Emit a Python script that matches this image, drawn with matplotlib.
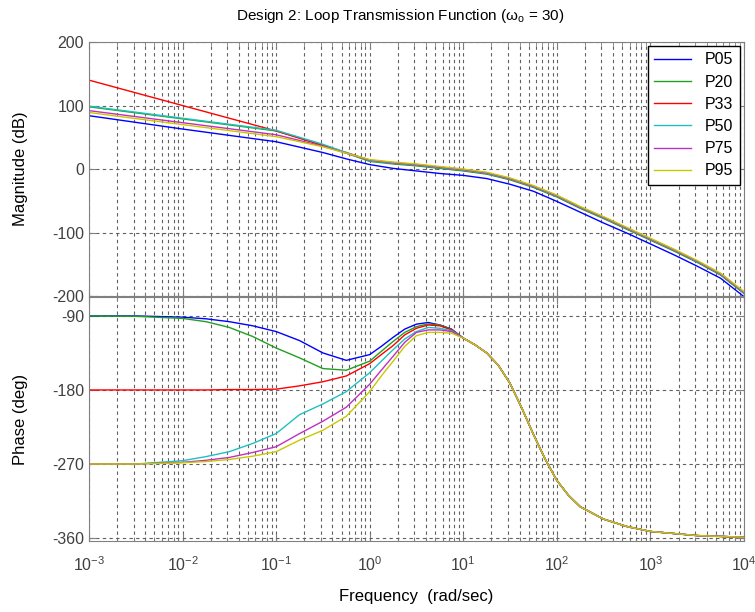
# Bode plot of the loop transmission for six plant cases (P05..P95)

import numpy as np
import matplotlib.pyplot as plt

plt.rcParams['font.family'] = ['Liberation Sans', 'DejaVu Sans']
plt.rcParams['mathtext.fontset'] = 'custom'
plt.rcParams['mathtext.rm'] = 'Liberation Sans'
plt.rcParams['mathtext.it'] = 'Liberation Sans'
plt.rcParams['axes.unicode_minus'] = False

# case names and line colours
cases = ['P05', 'P20', 'P33', 'P50', 'P75', 'P95']
colors = ['#0000ff', '#1fa01f', '#ff0000', '#20c0c0', '#c030c0', '#c8c800']

# magnitude (dB)
mag_w = [1e-3, 1e-2, 0.1, 0.316, 0.562, 1.0, 1.78, 3.16, 5.62, 10, 17.8, 31.6,
         56.2, 100, 178, 316, 562, 1000, 1778, 3162, 5623, 1e4]
mag_p05 = [84, 63, 43, 26, 16, 7, 1, -3, -7, -10, -15, -24, -35, -51, -68, -85,
           -101, -118, -135, -153, -172, -201]
mag_p20 = [98, 79, 60, 38, 25, 12, 8, 5, 1, -3, -8, -17, -29, -44, -62, -78,
           -95, -112, -129, -147, -167, -196]
mag_p33 = [140, 100, 60, 37, 26, 14, 9, 6, 2, -2, -7, -16, -28, -43, -61, -77,
           -94, -111, -128, -146, -166, -195]
mag_p50 = [99, 80, 61, 39, 26, 13, 9, 6, 2, -2, -7, -16, -28, -43, -61, -77,
           -94, -111, -128, -146, -166, -195]
mag_p75 = [92, 73, 54, 36, 25, 14, 10, 7, 3, -1, -6, -15, -27, -42, -60, -76,
           -93, -110, -127, -145, -165, -194]
mag_p95 = [89, 70, 51, 35, 25, 15, 11, 8, 4, 0, -5, -14, -26, -41, -59, -75,
           -92, -109, -126, -144, -164, -193]

# phase (deg): low-frequency part differs per case, the tail is shared
ph_lo_w = [0.001, 0.00316, 0.01, 0.0178, 0.0316, 0.0562, 0.1, 0.178, 0.316,
           0.562, 1.0, 1.33, 1.78, 2.37, 3.16, 4.22, 5.62, 7.5]
ph_p05 = [-90, -90, -91.5, -93.5, -97, -102, -109, -120, -135, -144, -137,
          -127, -116, -106, -100, -98, -101, -106]
ph_p20 = [-90, -90.5, -93, -97, -104, -115, -129, -141, -154, -156, -145,
          -133, -121, -110, -103, -99.7, -101, -106.5]
ph_p33 = [-180, -180, -180, -180, -179.5, -179.5, -179, -175, -170, -163, -148,
          -137, -126, -113, -105, -101, -102, -107]
ph_p50 = [-270, -270, -266, -261, -255, -245, -233, -210, -197, -182, -159,
          -145, -131, -118, -109, -104, -105, -108]
ph_p75 = [-270, -270, -268, -265.5, -262, -256, -249, -233, -218, -201, -173,
          -156, -139, -122, -110, -107, -107, -109]
ph_p95 = [-270, -270, -268.5, -267, -264.5, -260.5, -255, -241, -229, -212, -182,
          -163, -145, -127, -114, -110, -110, -111]
ph_hi_w = [10, 13.3, 17.8, 23.7, 31.6, 42.2, 56.2, 75, 100, 133, 178, 316, 562,
           1000, 3162, 1e4]
ph_tail = [-117, -125, -135, -150, -172, -202, -234, -264, -290, -308, -322,
           -337, -346, -352, -357, -359]

mags = [mag_p05, mag_p20, mag_p33, mag_p50, mag_p75, mag_p95]
phases = [ph_p05, ph_p20, ph_p33, ph_p50, ph_p75, ph_p95]

fig = plt.figure(figsize=(7.55, 6.12), dpi=100)
ax1 = fig.add_axes([0.1179, 0.5163, 0.8675, 0.4150])
ax2 = fig.add_axes([0.1179, 0.1160, 0.8675, 0.3987])

for name, c, m in zip(cases, colors, mags):
    ax1.plot(mag_w, m, color=c, lw=1.0, label=name)
for c, p in zip(colors, phases):
    ax2.plot(ph_lo_w + ph_hi_w, p + ph_tail, color=c, lw=1.0)

grid_style = dict(ls=(0, (3, 3)), color='#606060', lw=0.8)
for ax in (ax1, ax2):
    ax.set_xscale('log')
    ax.set_xlim(1e-3, 1e4)
    ax.grid(True, which='major', **grid_style)
    ax.grid(True, which='minor', axis='x', **grid_style)
    ax.tick_params(which='both', direction='in', top=True, right=True,
                   color='#808080', labelcolor='#404040', labelsize=11.5)
    ax.tick_params(which='major', length=5)
    ax.tick_params(which='minor', length=3)
    ax.yaxis.set_label_coords(-0.093, 0.5)
    for s in ax.spines.values():
        s.set_color('#808080')

ax1.set_ylim(-200, 200)
ax1.set_yticks([-200, -100, 0, 100, 200])
ax1.tick_params(labelbottom=False)
ax1.set_ylabel('Magnitude (dB)', fontsize=12)
ax1.set_title(r'Design 2: Loop Transmission Function ($\mathregular{\omega_o}$ = 30)',
              fontsize=11, pad=16, x=0.475)
leg = ax1.legend(loc='upper right', fontsize=11.5, fancybox=False, framealpha=1,
                 edgecolor='black', handlelength=2.3, handletextpad=0.9,
                 labelspacing=0.45, borderaxespad=0.25)
leg.get_frame().set_linewidth(1.0)

ax2.set_ylim(-363.6, -67)
ax2.set_yticks([-360, -270, -180, -90])
ax2.tick_params(axis='x', which='major', pad=10)
ax2.set_ylabel('Phase (deg)', fontsize=12)
ax2.set_xlabel('Frequency  (rad/sec)', fontsize=12)
ax2.xaxis.set_label_coords(0.5, -0.195)

fig.savefig('out.png', dpi=100)
